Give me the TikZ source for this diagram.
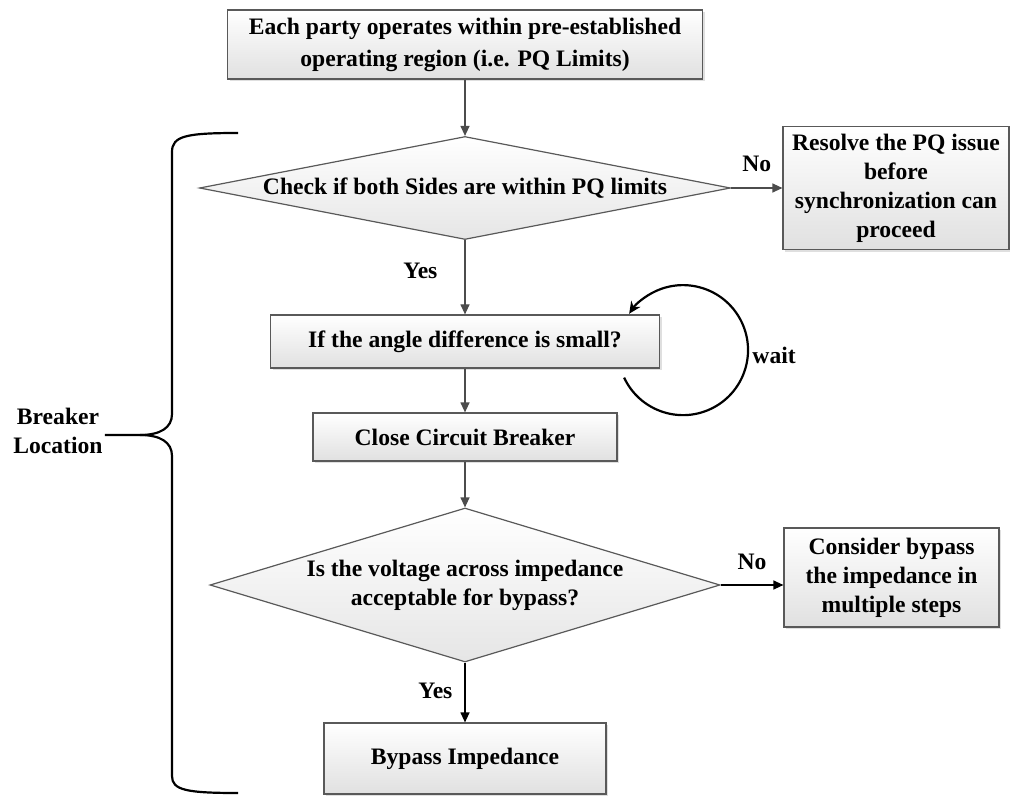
\documentclass[tikz,border=0pt]{standalone}
\usepackage{fontspec}
\setmainfont{Liberation Serif}
\usetikzlibrary{shapes.geometric, positioning, arrows.meta, shadows}

\newcommand{\fsz}{\fontsize{11.8}{14.5}\selectfont}
\tikzset{
box/.style={rectangle, draw=black!65, line width=0.6pt, top color=white, bottom color=black!12, drop shadow={shadow xshift=1.2pt, shadow yshift=-1.2pt, opacity=0.25}, align=center, inner sep=2pt, font=\fsz\bfseries},
dec/.style={diamond, draw=black!65, line width=0.6pt, top color=white, bottom color=black!10, align=center, inner sep=0pt, font=\fsz\bfseries},
arr/.style={-{Triangle[length=5pt,width=4.5pt]}, draw=black!70, line width=0.6pt},
lbl/.style={font=\fsz\bfseries, inner sep=1pt},
waitarr/.style={-{Stealth[length=6pt,width=5.5pt]}, line width=1.1pt},
bracel/.style={line width=1.1pt}
}

\begin{document}
\begin{tikzpicture}
\useasboundingbox (0pt,0pt) rectangle (505pt,-398pt);
\node[box, minimum width=237.5pt, minimum height=34.5pt, font=\fontsize{11.8}{16}\selectfont\bfseries] (top) at (232.5pt,-22.25pt) {Each party operates within pre-established\\operating region (i.e. PQ Limits)};
\node[dec, below of=top, node distance=71.75pt, minimum width=265.5pt, minimum height=51.5pt, aspect=5.15] (chk) {Check if both Sides are within PQ limits};
\node[box, right of=chk, node distance=215.5pt, minimum width=113pt, minimum height=61.5pt] (res) {Resolve the PQ issue\\before\\synchronization can\\proceed};
\node[box, below of=chk, node distance=76.75pt, minimum width=194.5pt, minimum height=26.5pt] (ang) {If the angle difference is small?};
\node[box, below of=ang, node distance=47.75pt, minimum width=152pt, minimum height=24pt] (cls) {Close Circuit Breaker};
\node[dec, below of=cls, node distance=74pt, minimum width=255pt, minimum height=77pt, aspect=3.3] (vlt) {Is the voltage across impedance\\acceptable for bypass?};
\node[box, right of=vlt, node distance=213.25pt, yshift=3.75pt, minimum width=107.5pt, minimum height=49.5pt] (cns) {Consider bypass\\the impedance in\\multiple steps};
\node[box, below of=vlt, node distance=86.75pt, minimum width=141pt, minimum height=35.5pt] (byp) {Bypass Impedance};
\node[lbl] (wt) at ([shift={(57pt,-6.75pt)}]ang.east) {wait};
\node[lbl, align=center] (brk) at (29pt,-215.5pt) {Breaker\\Location};

\draw[arr] (top) -- (chk);
\draw[arr] (chk.east) -- node[lbl, above=7pt] {No} (chk.east -| res.west);
\draw[arr] (chk) -- node[lbl, left=12.5pt, pos=0.42] {Yes} (ang);
\draw[arr] (ang) -- (cls);
\draw[arr] (cls) -- (vlt);
\draw[arr, draw=black] (vlt.east) -- node[lbl, above=6.5pt] {No} (vlt.east -| cns.west);
\draw[arr, draw=black] (vlt) -- node[lbl, left=5pt, pos=0.48] {Yes} (byp);
\draw[waitarr] ([shift={(-18pt,-4.5pt)}]ang.south east) arc[start angle=205, end angle=506, radius=32.5pt];

\draw[bracel] (119pt,-66.5pt) .. controls (93pt,-66.5pt) and (86pt,-68pt) .. (86pt,-76pt) -- (86pt,-207pt)
.. controls (86pt,-214pt) and (80pt,-217.5pt) .. (70pt,-217.5pt) -- (brk.east |- 0pt,-217.5pt);
\draw[bracel] (70pt,-217.5pt) .. controls (80pt,-217.5pt) and (86pt,-221pt) .. (86pt,-228pt) -- (86pt,-388pt)
.. controls (86pt,-395pt) and (93pt,-396.5pt) .. (119pt,-396.5pt);
\end{tikzpicture}
\end{document}
